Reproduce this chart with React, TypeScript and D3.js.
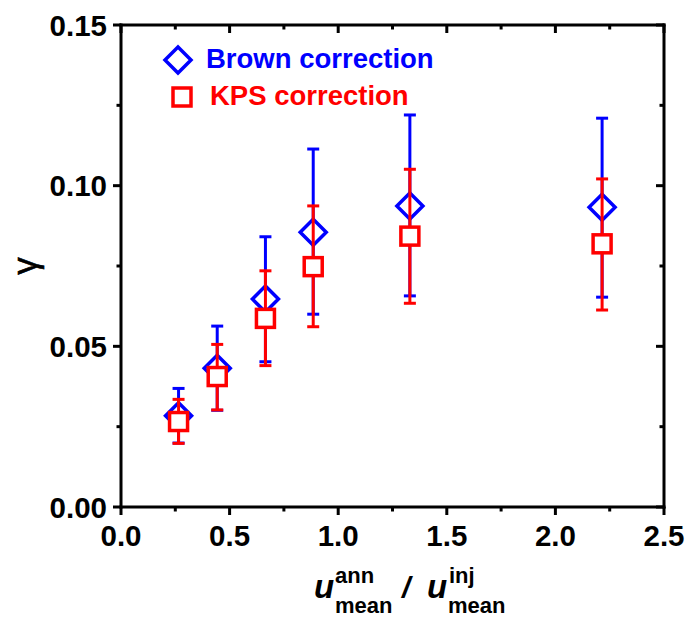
import React from "react";
import * as d3 from "d3";

const xVals = [0.265, 0.443, 0.665, 0.885, 1.33, 2.215];
const brownVals = [0.0284, 0.0432, 0.0647, 0.0855, 0.0937, 0.0933];
const brownUpper = [0.0369, 0.0563, 0.0841, 0.1114, 0.122, 0.121];
const brownLower = [0.0199, 0.0301, 0.0452, 0.06, 0.0657, 0.0653];
const kpsVals = [0.0266, 0.0406, 0.0587, 0.0748, 0.0843, 0.0819];
const kpsUpper = [0.0335, 0.0506, 0.0735, 0.0937, 0.1051, 0.1021];
const kpsLower = [0.0198, 0.0302, 0.044, 0.0561, 0.0634, 0.0613];

const xTickLabels = ["0.0", "0.5", "1.0", "1.5", "2.0", "2.5"];
const yTickLabels = ["0.00", "0.05", "0.10", "0.15"];
const legendLabels = ["Brown correction", "KPS correction"];

const W = 691;
const H = 618;
const FONT = "'Liberation Sans', Arial, Helvetica, sans-serif";
const BLUE = "#0000ff";
const RED = "#ff0000";

export default function App() {
  const x = d3.scaleLinear().domain([0, 2.5]).range([121, 664]);
  const y = d3.scaleLinear().domain([0, 0.15]).range([507, 25]);
  const [x0, x1] = x.range();
  const [y0, y1] = y.range();

  const xMajor = d3.range(0, 2.5001, 0.5);
  const xMinor = d3.range(0.25, 2.5, 0.5);
  const yMajor = d3.range(0, 0.15001, 0.05);
  const yMinor = d3.range(0.025, 0.15, 0.05);

  const axisW = 3;
  const maj = 8;
  const min = 4.5;
  const cap = 6;
  const dia = 13;
  const sq = 9;

  const bars = (vals: number[], lo: number[], hi: number[], color: string) =>
    vals.map((_, i) => (
      <g key={i} stroke={color} strokeWidth={3}>
        <line x1={x(xVals[i])} x2={x(xVals[i])} y1={y(lo[i])} y2={y(hi[i])} />
        <line x1={x(xVals[i]) - cap} x2={x(xVals[i]) + cap} y1={y(lo[i])} y2={y(lo[i])} />
        <line x1={x(xVals[i]) - cap} x2={x(xVals[i]) + cap} y1={y(hi[i])} y2={y(hi[i])} />
      </g>
    ));

  const diamondPath = (cx: number, cy: number) =>
    `M${cx},${cy - dia}L${cx + dia},${cy}L${cx},${cy + dia}L${cx - dia},${cy}Z`;

  return (
    <svg width={W} height={H} style={{ position: "absolute", left: 0, top: 0, background: "#fff" }}>
      <rect x={0} y={0} width={W} height={H} fill="#fff" />
      {/* Brown series */}
      {bars(brownVals, brownLower, brownUpper, BLUE)}
      {brownVals.map((v, i) => (
        <path key={"d" + i} d={diamondPath(x(xVals[i]), y(v))} fill="#fff" stroke={BLUE} strokeWidth={3.5} strokeLinejoin="miter" />
      ))}
      {/* KPS series */}
      {bars(kpsVals, kpsLower, kpsUpper, RED)}
      {kpsVals.map((v, i) => (
        <rect key={"s" + i} x={x(xVals[i]) - sq} y={y(v) - sq} width={sq * 2} height={sq * 2} fill="#fff" stroke={RED} strokeWidth={3.5} />
      ))}

      {/* Axes frame */}
      <g stroke="#000" strokeWidth={axisW} fill="none">
        <line x1={x0 - 1.5} x2={x1 + 1.5} y1={y0} y2={y0} />
        <line x1={x0 - 1.5} x2={x1 + 1.5} y1={y1} y2={y1} />
        <line x1={x0} x2={x0} y1={y0 + 1.5} y2={y1 - 1.5} />
        <line x1={x1} x2={x1} y1={y0 + 1.5} y2={y1 - 1.5} />
        {xMajor.map((t, i) => (
          <g key={"xm" + i}>
            <line x1={x(t)} x2={x(t)} y1={y0} y2={y0 + maj} />
            <line x1={x(t)} x2={x(t)} y1={y1} y2={y1 + maj} />
          </g>
        ))}
        {xMinor.map((t, i) => (
          <g key={"xn" + i}>
            <line x1={x(t)} x2={x(t)} y1={y0} y2={y0 + min} />
            <line x1={x(t)} x2={x(t)} y1={y1} y2={y1 + min} />
          </g>
        ))}
        {yMajor.map((t, i) => (
          <g key={"ym" + i}>
            <line x1={x0 - maj} x2={x0} y1={y(t)} y2={y(t)} />
            <line x1={x1 - maj} x2={x1} y1={y(t)} y2={y(t)} />
          </g>
        ))}
        {yMinor.map((t, i) => (
          <g key={"yn" + i}>
            <line x1={x0 - min} x2={x0} y1={y(t)} y2={y(t)} />
            <line x1={x1 - min} x2={x1} y1={y(t)} y2={y(t)} />
          </g>
        ))}
      </g>

      {/* Tick labels */}
      <g fontFamily={FONT} fontWeight="bold" fontSize={29.5} fill="#000">
        {xMajor.map((t, i) => (
          <text key={"xl" + i} x={x(t)} y={y0 + 39} textAnchor="middle">
            {xTickLabels[i]}
          </text>
        ))}
        {yMajor.map((t, i) => (
          <text key={"yl" + i} x={x0 - 14} y={y(t) + 10.5} textAnchor="end">
            {yTickLabels[i]}
          </text>
        ))}
      </g>

      {/* Y title */}
      <text x={0} y={0} transform="translate(37,266) rotate(-90)" textAnchor="middle" fontFamily={FONT} fontSize={35} fill="#000" stroke="#000" strokeWidth={0.6}>
        γ
      </text>

      {/* X title */}
      <g fontFamily={FONT} fontWeight="bold" fill="#000">
        <text x={314} y={598} fontSize={33} fontStyle="italic">u</text>
        <text x={335} y={583} fontSize={22}>ann</text>
        <text x={335} y={613} fontSize={22}>mean</text>
        <text x={402} y={598} fontSize={30} fontStyle="italic">/</text>
        <text x={427} y={598} fontSize={33} fontStyle="italic">u</text>
        <text x={449} y={583} fontSize={22}>inj</text>
        <text x={448} y={613} fontSize={22}>mean</text>
      </g>

      {/* Legend */}
      <path d={diamondPath(178, 60)} fill="#fff" stroke={BLUE} strokeWidth={3.5} />
      <text x={206} y={68} fontFamily={FONT} fontWeight="bold" fontSize={27.5} fill={BLUE}>
        {legendLabels[0]}
      </text>
      <rect x={182 - sq} y={97 - sq} width={sq * 2} height={sq * 2} fill="#fff" stroke={RED} strokeWidth={3.5} />
      <text x={210} y={105} fontFamily={FONT} fontWeight="bold" fontSize={27.5} fill={RED}>
        {legendLabels[1]}
      </text>
    </svg>
  );
}
